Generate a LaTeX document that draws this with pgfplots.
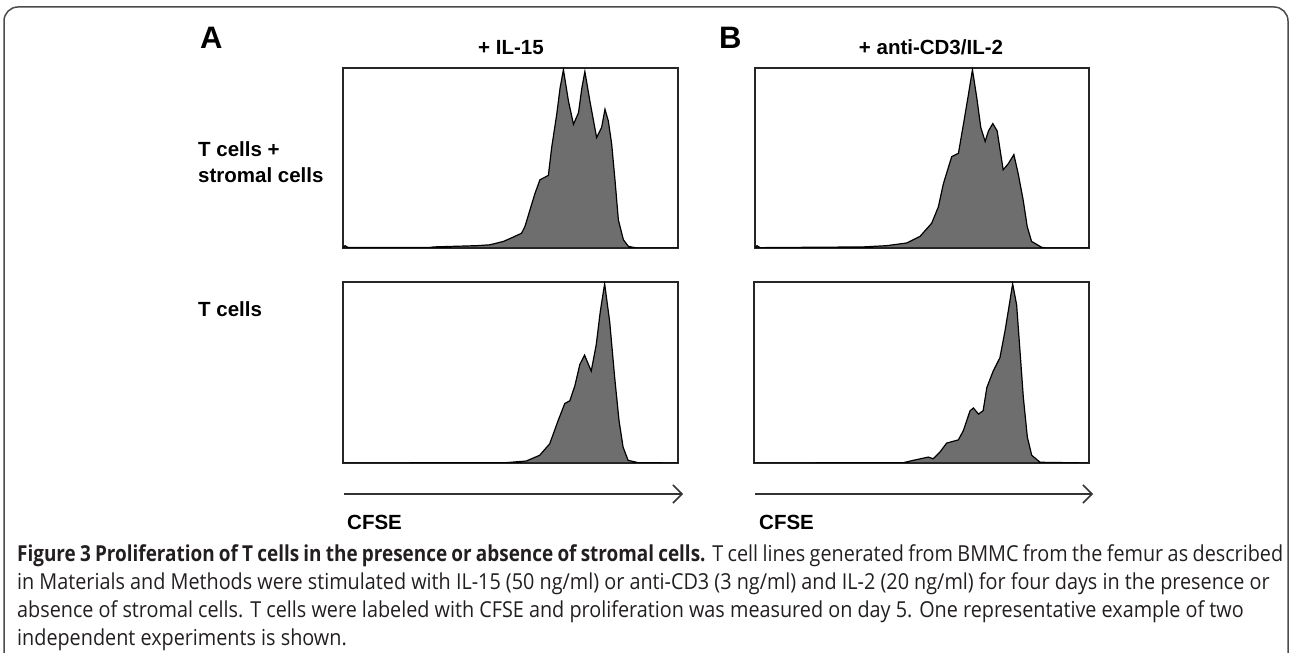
\documentclass[border=0pt]{standalone}
\usepackage{fontspec}
\setmainfont{Liberation Sans}
\newfontfamily\capfont[FakeStretch=0.90, BoldFeatures={FakeStretch=0.86}]{Open Sans}
\usepackage{pgfplots}
\pgfplotsset{compat=1.18}
\usetikzlibrary{arrows.meta}
\definecolor{histgray}{RGB}{110,110,110}
\definecolor{capblack}{RGB}{35,31,32}

\pgfplotsset{
  histo/.style={
    scale only axis, anchor=south west,
    width=335pt, height=180pt,
    xmin=0, xmax=100, ymin=0, ymax=101,
    ticks=none,
    axis line style={line width=1.4pt, black!85},
  },
  hist/.style={fill=histgray, draw=black, line width=1.2pt},
}

\begin{document}
\begin{tikzpicture}
\path[use as bounding box] (0,0) rectangle (1290pt,653pt);

% frame round the figure
\draw[line width=1.5pt, black!70, rounded corners=14pt]
  (4pt,-40pt) -- (4pt,646pt) -- (1288pt,646pt) -- (1288pt,-40pt);

% A, top: T cells + stromal cells, IL-15
\begin{axis}[histo, at={(343pt,405pt)}]
\addplot[hist] coordinates {
(0,0)(0.6,1.3)(1.5,0.3)(26,0.3)(27,0.6)(39.9,1.3)(43.9,1.8)(47.9,3.7)
(50.8,6.1)(53.3,8.3)(54.3,12)(55.8,21.3)(57.3,30.6)(58.8,38.3)(61.3,40.7)
(62.3,56.5)(63.8,75)(64.8,89.8)(65.8,100)(67.3,82.4)(68.8,69.4)(70.3,75.9)
(71.3,89.8)(72.2,99)(73.7,82.4)(75.7,62)(77.2,67.6)(78.2,77.8)(79.2,71.3)
(80.2,58.3)(81.2,37.9)(82.2,15.7)(83.7,4.6)(85.2,0.9)(87.7,0)(100,0)
} \closedcycle;
\end{axis}

% B, top: T cells + stromal cells, anti-CD3/IL-2
\begin{axis}[histo, width=334pt, at={(755pt,405pt)}]
\addplot[hist] coordinates {
(0,0)(0.6,1.3)(1.5,0.2)(32.4,0.6)(39.4,1.3)(45.4,2.8)(49.4,6.5)(52.9,13.9)
(54.9,23.1)(56.4,36.1)(58.9,51.3)(60.9,53.1)(62.4,69.4)(63.9,86.1)(65.1,100)
(66.4,84.3)(67.6,67.6)(68.9,59.8)(69.9,65.7)(71.2,69.8)(72.5,65.7)(74.3,43.9)
(75.8,47.2)(77.5,52.4)(78.8,41.7)(80.3,26.8)(81.5,12)(82.8,3.7)(85.8,0.4)
(87.3,0)(100,0)
} \closedcycle;
\end{axis}

% A, bottom: T cells, IL-15
\begin{axis}[histo, height=181pt, at={(343pt,190pt)}]
\addplot[hist] coordinates {
(0,0)(48.8,0.2)(54.7,1.1)(58.7,4.3)(61.7,10.7)(64.2,23.6)(66.2,33.2)
(67.7,34.7)(69.2,43)(70.7,55)(72.1,60.2)(74.1,51.3)(75.6,66.1)(76.8,84.5)
(78.1,100)(79.6,79)(81.1,47.6)(82.4,23.6)(83.6,8.9)(85.1,1.5)(88.1,0.2)(100,0)
} \closedcycle;
\end{axis}

% B, bottom: T cells, anti-CD3/IL-2
\begin{axis}[histo, height=181pt, at={(754pt,190pt)}]
\addplot[hist] coordinates {
(0,0)(44.6,0.2)(47.6,1.5)(52,3.3)(53.5,2.4)(55.5,6.1)(57.5,11.1)(61,12.9)
(62.5,18.1)(64.5,29.2)(65.5,30.7)(67,27.3)(68.4,29.2)(69.5,42.1)(71.4,51.3)
(73.4,58.7)(74.9,73.4)(76.2,88.2)(77.2,100)(78.4,88.2)(79.4,62.4)(80.4,36.5)
(81.6,14.4)(82.9,4.3)(85.4,0.4)(100,0)
} \closedcycle;
\end{axis}

% panel letters and titles
\node[anchor=base west, inner sep=0, font=\fontsize{31}{36}\selectfont\bfseries] at (200pt,604pt) {A};
\node[anchor=base west, inner sep=0, font=\fontsize{31}{36}\selectfont\bfseries] at (719pt,604pt) {B};
\node[anchor=base, inner sep=0, font=\fontsize{20.5}{24}\selectfont\bfseries] at (511pt,598pt) {+ IL-15};
\node[anchor=base, inner sep=0, font=\fontsize{20.5}{24}\selectfont\bfseries] at (931pt,598pt) {+ anti-CD3/IL-2};

% row labels
\node[anchor=base west, inner sep=0, font=\fontsize{20.5}{24}\selectfont\bfseries] at (198pt,496pt) {T cells +};
\node[anchor=base west, inner sep=0, font=\fontsize{20.5}{24}\selectfont\bfseries] at (198pt,470pt) {stromal cells};
\node[anchor=base west, inner sep=0, font=\fontsize{20.5}{24}\selectfont\bfseries] at (198pt,336pt) {T cells};

% CFSE arrows
\draw[line width=1.5pt, black!80, -{Straight Barb[length=9pt,width=18pt]}] (344pt,159pt) -- (683pt,159pt);
\draw[line width=1.5pt, black!80, -{Straight Barb[length=9pt,width=18pt]}] (755pt,159pt) -- (1093pt,159pt);
\node[anchor=base west, inner sep=0, font=\fontsize{20.5}{24}\selectfont\bfseries] at (347pt,123pt) {CFSE};
\node[anchor=base west, inner sep=0, font=\fontsize{20.5}{24}\selectfont\bfseries] at (759pt,123pt) {CFSE};

% caption
\begin{scope}[every node/.style={anchor=base west, inner sep=0, text=capblack, font=\capfont\fontsize{22}{26}\selectfont}]
\node at (17pt,91pt) {\makebox[1266pt][s]{\textbf{Figure 3 Proliferation of T cells in the presence or absence of stromal cells.} T cell lines generated from BMMC from the femur as described}};
\node at (17pt,63pt) {in Materials and Methods were stimulated with IL-15 (50 ng/ml) or anti-CD3 (3 ng/ml) and IL-2 (20 ng/ml) for four days in the presence or};
\node at (17pt,35pt) {absence of stromal cells. T cells were labeled with CFSE and proliferation was measured on day 5. One representative example of two};
\node at (17pt,7pt) {independent experiments is shown.};
\end{scope}
\end{tikzpicture}
\end{document}
